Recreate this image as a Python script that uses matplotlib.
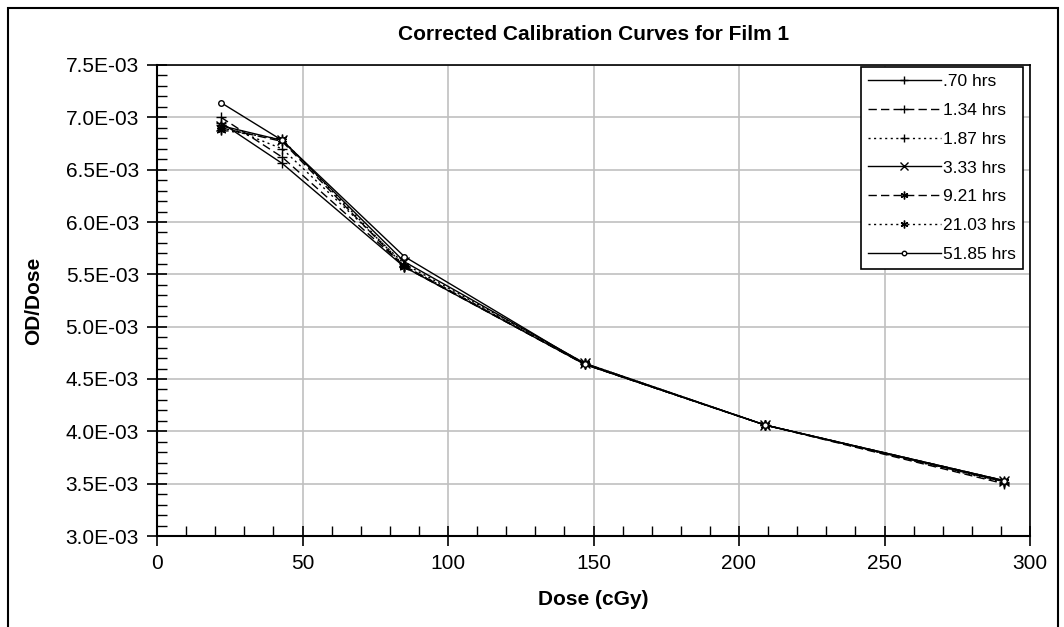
import matplotlib
matplotlib.use("Agg")
import matplotlib.pyplot as plt
from matplotlib.patches import Rectangle
from matplotlib.ticker import MultipleLocator, FuncFormatter

plt.rcParams["font.family"] = ["Liberation Sans", "DejaVu Sans"]

dose = [22, 43, 85, 147, 209, 291]

labels = [".70 hrs", "1.34 hrs", "1.87 hrs", "3.33 hrs", "9.21 hrs", "21.03 hrs", "51.85 hrs"]
od_070 = [6.95e-3, 6.56e-3, 5.57e-3, 4.64e-3, 4.06e-3, 3.52e-3]
od_134 = [7.00e-3, 6.62e-3, 5.58e-3, 4.64e-3, 4.06e-3, 3.50e-3]
od_187 = [6.93e-3, 6.70e-3, 5.60e-3, 4.65e-3, 4.06e-3, 3.51e-3]
od_333 = [6.92e-3, 6.78e-3, 5.62e-3, 4.65e-3, 4.06e-3, 3.53e-3]
od_921 = [6.90e-3, 6.77e-3, 5.57e-3, 4.64e-3, 4.06e-3, 3.53e-3]
od_2103 = [6.88e-3, 6.79e-3, 5.58e-3, 4.65e-3, 4.06e-3, 3.52e-3]
od_5185 = [7.14e-3, 6.78e-3, 5.67e-3, 4.64e-3, 4.06e-3, 3.53e-3]

series = [od_070, od_134, od_187, od_333, od_921, od_2103, od_5185]
styles = [
    ("-", "+"),
    ((0, (6, 3)), "+"),
    ((0, (1.5, 2.5)), "+"),
    ("-", "x"),
    ((0, (6, 3)), (6, 2, 0)),
    ((0, (1.5, 2.5)), (6, 2, 0)),
    ("-", "o"),
]

fig = plt.figure(figsize=(10.64, 6.27), dpi=100)
ax = fig.add_axes([157 / 1064, 1 - 536 / 627, 873 / 1064, 471 / 627])

for vals, label, (ls, mk) in zip(series, labels, styles):
    ms = 4 if mk == "o" else 7
    ax.plot(dose, vals, color="black", linestyle=ls, linewidth=1.0,
            marker=mk, markersize=ms, markerfacecolor="white" if mk == "o" else "black",
            markeredgecolor="black", markeredgewidth=1.0, label=label)

ax.set_xlim(0, 300)
ax.set_ylim(3.0e-3, 7.5e-3)
ax.xaxis.set_major_locator(MultipleLocator(50))
ax.xaxis.set_minor_locator(MultipleLocator(10))
ax.yaxis.set_major_locator(MultipleLocator(0.5e-3))
ax.yaxis.set_minor_locator(MultipleLocator(0.1e-3))
ax.yaxis.set_major_formatter(FuncFormatter(lambda v, p: f"{v:.1E}"))

ax.tick_params(which="major", direction="inout", length=14, width=1.2, labelsize=15, pad=6)
ax.tick_params(which="minor", direction="in", length=7, width=1.0)
ax.grid(True, which="major", color="#c0c0c0", linewidth=1.2)
ax.set_axisbelow(True)
for side in ["left", "bottom"]:
    ax.spines[side].set_linewidth(1.5)
for side in ["top", "right"]:
    ax.spines[side].set_linewidth(1.2)

ax.set_xlabel("Dose (cGy)", fontsize=15, fontweight="bold", labelpad=12)
ax.set_ylabel("OD/Dose", fontsize=15, fontweight="bold", labelpad=16)
ax.set_title("Corrected Calibration Curves for Film 1", fontsize=15, fontweight="bold", pad=18)

leg = ax.legend(loc="upper right", bbox_to_anchor=(0.992, 0.995), fontsize=12.5,
                handlelength=4.2, handletextpad=0.15, labelspacing=0.78,
                borderpad=0.4, borderaxespad=0.0, fancybox=False,
                framealpha=1, edgecolor="black", markerscale=0.8)
leg.get_frame().set_linewidth(1.2)

fig.patches.append(Rectangle((8 / 1064, -0.1), 1050 / 1064, 1.1 - 8 / 627,
                             transform=fig.transFigure, fill=False,
                             edgecolor="black", linewidth=1.5))

fig.savefig("out.png", dpi=100)
